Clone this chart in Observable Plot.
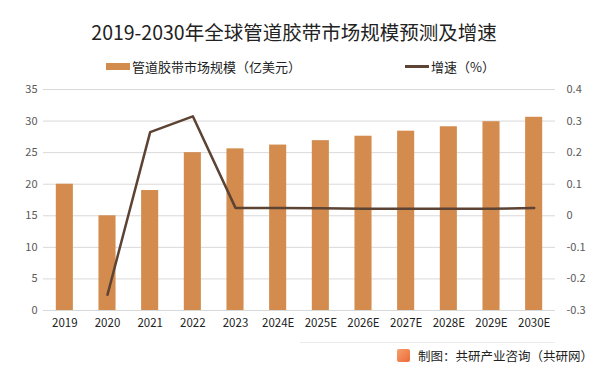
<!DOCTYPE html>
<html><head><meta charset="utf-8">
<script src="https://cdn.jsdelivr.net/npm/d3@7"></script>
<script src="https://cdn.jsdelivr.net/npm/@observablehq/plot@0.6"></script>
<style>
body{margin:0;background:#fff;font-family:"Noto Sans CJK SC","Noto Sans",sans-serif;}
#wrap{position:relative;width:603px;height:375px;overflow:hidden;}
#title{position:absolute;left:0;width:588px;top:17px;text-align:center;font-size:19.5px;color:#222;}
.leg{position:absolute;top:57px;font-size:13px;color:#222;display:flex;align-items:center;}
.sw{display:inline-block;margin-right:2px;}
#footer{position:absolute;right:10px;top:346px;font-size:12.5px;color:#222;display:flex;align-items:center;}
#logo{width:13px;height:13px;background:linear-gradient(135deg,#f5a06a,#ee6a3a);border-radius:2px;margin-right:8px;}
#rule{position:absolute;left:300px;right:48px;top:342px;height:1px;background:#ececec;}
#chart{position:absolute;left:0;top:0;}
</style></head>
<body><div id="wrap"><div id="chart"></div>
<div id="title">2019-2030年全球管道胶带市场规模预测及增速</div>
<div class="leg" style="left:106px"><span class="sw" style="width:24px;height:7px;background:#D38B4E"></span>管道胶带市场规模（亿美元）</div>
<div class="leg" style="left:405px"><span class="sw" style="width:24px;height:3px;background:#5C4333"></span>增速（%）</div>
<div id="rule"></div>
<div id="footer"><span id="logo"></span>制图：共研产业咨询（共研网）</div>
</div>
<script>
const years = ["2019","2020","2021","2022","2023","2024E","2025E","2026E","2027E","2028E","2029E","2030E"];
const market = [20, 15, 19, 25, 25.6, 26.2, 26.9, 27.6, 28.4, 29.1, 29.9, 30.6];
const growth = [null, -0.25, 0.265, 0.315, 0.025, 0.025, 0.024, 0.022, 0.022, 0.022, 0.022, 0.025];
const leftTicks = [0,5,10,15,20,25,30,35];
const rightTicks = [-0.3,-0.2,-0.1,0,0.1,0.2,0.3,0.4];

const toY = g => (g + 0.3) * 50;
const bars = years.map((y,i)=>({year:y, value:market[i]}));
const line = years.map((y,i)=>({year:y, g:growth[i]})).filter(d=>d.g!==null);

const chart = Plot.plot({
  width:603, height:375,
  marginLeft:43, marginRight:48, marginTop:89, marginBottom:65,
  style:{fontFamily:'"Noto Sans CJK SC","Noto Sans",sans-serif', fontSize:"11px", color:"#595959", background:"transparent"},
  x:{domain:years, paddingInner:0.6, paddingOuter:0.3, round:false, label:null},
  y:{domain:[0,35], label:null},
  marks:[
    Plot.ruleY(leftTicks, {stroke:"#d9d9d9", strokeWidth:1}),
    Plot.barY(bars, {x:"year", y:"value", fill:"#D38B4E"}),
    Plot.line(line, {x:"year", y:d=>toY(d.g), stroke:"#5C4333", strokeWidth:2.5}),
    Plot.axisX({tickSize:0, tickPadding:8, fontSize:11.5, fill:"#222", label:null}),
    Plot.axisY(leftTicks, {anchor:"left", tickSize:0, tickPadding:6, label:null}),
    Plot.axisY(rightTicks.map(toY), {anchor:"right", tickSize:0, tickPadding:11, label:null, textAnchor:"start",
      tickFormat:d=>{const v=Math.round((d/50-0.3)*10)/10; return v===0?"0":String(v);}})
  ]
});
document.getElementById("chart").appendChild(chart);
</script></body></html>
